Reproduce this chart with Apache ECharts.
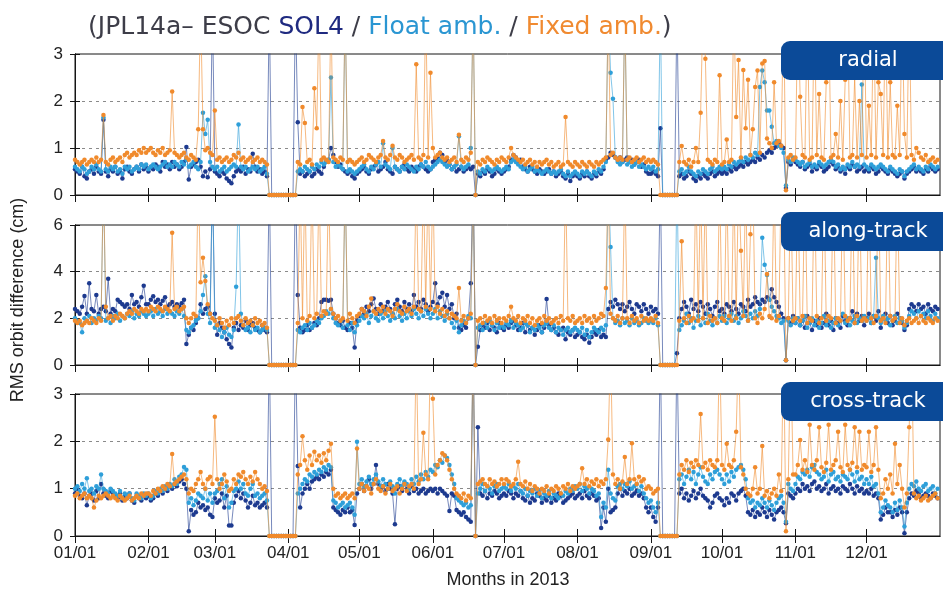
<!DOCTYPE html>
<html>
<head>
<meta charset="utf-8">
<script src="https://cdn.jsdelivr.net/npm/echarts@6/dist/echarts.min.js"></script>
<style>
html,body{margin:0;padding:0;background:#fff}
#chart{width:943px;height:593px}
</style>
</head>
<body>
<div id="chart"></div>
<script>
// Day-of-year where each month of 2013 starts, and the tick labels shown there
const MONTH_START = [0,31,59,90,120,151,181,212,243,273,304,334];
const MONTH_LABELS = ['01/01','02/01','03/01','04/01','05/01','06/01','07/01','08/01','09/01','10/01','11/01','12/01'];

// Daily RMS orbit differences (cm), one sub-array per month.
// Values above the axis maximum are days that leave the top of the panel.

// ---- radial ----
const RADIAL_SOL4 = [
[0.55,0.5,0.45,0.6,0.4,0.35,0.5,0.55,0.45,0.6,0.5,0.45,1.6,0.5,0.4,0.55,0.5,0.6,0.45,0.5,0.35,0.55,0.6,0.5,0.45,0.55,0.6,0.5,0.65,0.55,0.6],
[0.5,0.6,0.55,0.65,0.6,0.5,0.7,0.6,0.65,0.55,0.7,0.6,0.65,0.55,0.6,0.7,1.02,0.33,0.6,0.65,0.7,0.75,0.6,0.4,0.5,0.38,0.55,4],
[0.5,0.45,0.4,0.5,0.45,0.35,0.3,0.25,0.4,0.5,0.55,0.5,0.6,0.45,0.55,0.5,0.88,0.6,0.5,0.55,0.45,0.5,0.4,4,0,0,0,0,0,0,0],
[0,0,0,4,1.55,0.45,0.5,0.4,0.45,0.5,0.4,0.45,0.55,0.5,0.45,0.6,0.7,0.75,1.0,0.85,0.7,0.6,0.65,0.55,0.5,0.45,0.5,0.4,0.35,0.45],
[0.5,0.55,0.6,0.5,0.45,0.55,0.6,0.65,0.5,0.55,0.6,0.7,0.55,0.5,0.45,0.6,0.55,0.5,0.6,0.65,0.55,0.5,0.6,0.55,0.5,0.6,0.65,0.6,0.55,0.5,0.55],
[0.7,0.75,0.8,0.9,0.85,0.7,0.75,0.65,0.55,0.6,0.5,0.55,0.6,0.5,0.55,0.6,0.55,0.6,0,0.45,0.4,0.5,0.45,0.55,0.5,0.4,0.45,0.55,0.5,0.45],
[0.5,0.55,0.6,0.75,0.85,0.8,0.7,0.75,0.6,0.55,0.5,0.6,0.55,0.5,0.45,0.55,0.5,0.45,0.5,0.55,0.45,0.5,0.4,0.45,0.5,0.4,0.35,0.45,0.3,0.4,0.45],
[0.4,0.35,0.45,0.4,0.5,0.4,0.35,0.45,0.4,0.5,0.45,0.55,0.75,0.8,0.9,0.85,0.8,0.75,0.8,0.7,0.75,0.8,0.7,0.75,0.65,0.7,0.75,0.6,0.65,0.5,0.45],
[0.45,0.5,0.45,0.4,1.42,0,0,0,0,0,0,4,0.4,0.45,0.35,0.4,0.5,0.45,0.35,0.3,0.4,0.35,0.45,0.4,0.35,0.45,0.5,0.4,0.45,0.5],
[0.45,0.5,0.45,0.55,0.5,0.6,0.55,0.6,0.65,0.6,0.7,0.65,0.7,0.75,0.7,0.8,0.75,0.85,0.8,0.9,0.95,0.9,1.0,1.05,1.1,1.05,1.0,0.15,0.7,0.65,0.75],
[0.7,0.65,0.6,0.7,0.55,0.6,0.65,0.5,0.6,0.55,0.65,0.6,0.5,0.55,0.6,0.7,0.65,0.55,0.6,0.5,0.55,0.45,0.6,0.55,0.65,0.6,0.5,0.55,0.6,0.5],
[0.55,0.5,0.6,0.55,0.45,0.5,0.6,0.55,0.5,0.45,0.55,0.5,0.45,0.4,0.45,0.5,0.35,0.45,0.5,0.55,0.6,0.5,0.55,0.5,0.45,0.55,0.5,0.6,0.55,0.5,0.55]
];
const RADIAL_FLOAT = [
[0.6,0.55,0.5,0.6,0.55,0.45,0.5,0.6,0.55,0.65,0.55,0.5,1.65,0.55,0.5,0.6,0.55,0.6,0.5,0.55,0.45,0.6,0.55,0.6,0.5,0.55,0.6,0.55,0.65,0.6,0.65],
[0.55,0.6,0.65,0.6,0.55,0.6,0.65,0.7,0.6,0.65,0.6,0.7,0.65,0.6,0.7,0.65,0.75,0.6,0.65,0.7,0.6,0.55,0.7,1.75,1.3,1.6,0.7,0.6],
[0.55,0.6,0.5,0.55,0.6,0.5,0.55,0.6,0.65,0.6,1.5,0.6,0.55,0.6,0.5,0.55,0.6,0.55,0.6,0.5,0.55,0.6,0.45,0,0,0,0,0,0,0,0],
[0,0,0,0,0.5,0.55,0.5,0.6,0.55,0.5,0.6,0.55,0.65,0.6,0.7,0.65,0.7,0.75,2.5,0.7,0.6,0.65,0.6,0.55,4,0.5,0.55,0.5,0.45,0.5],
[0.55,0.6,0.65,0.55,0.5,0.6,0.55,0.65,0.7,0.6,1.1,0.65,0.6,0.55,1.0,0.6,0.55,0.5,0.6,0.55,0.65,0.6,0.55,0.5,0.6,0.55,0.65,0.6,0.7,0.6,0.55],
[0.6,0.65,0.7,0.75,0.7,0.65,0.6,0.65,0.55,0.6,0.65,1.25,0.6,0.55,0.6,0.65,1.0,4,0,0.5,0.45,0.55,0.5,0.6,0.55,0.5,0.55,0.6,0.55,0.5],
[0.55,0.6,0.55,0.7,0.75,0.7,0.65,0.6,0.55,0.6,0.5,0.55,0.6,0.5,0.55,0.5,0.45,0.5,0.55,0.5,0.45,0.5,0.45,0.5,0.55,0.45,0.4,0.5,0.4,0.45,0.5],
[0.45,0.4,0.5,0.45,0.5,0.45,0.4,0.5,0.45,0.55,0.5,0.6,0.7,4,2.6,2.05,0.8,0.7,0.65,0.7,4,0.65,0.7,0.6,0.65,0.7,0.6,0.65,0.6,0.55,0.6],
[0.55,0.6,0.5,0.55,4,0,0,0,0,0,0,0,0.5,0.55,0.45,0.5,0.6,0.5,0.45,0.4,0.5,0.45,0.55,0.5,0.45,0.55,0.6,0.5,0.55,0.6],
[0.55,0.6,0.55,0.65,0.6,0.7,0.65,0.7,0.75,0.7,0.8,0.75,0.85,0.8,0.9,0.85,2.3,2.65,2.4,1.8,1.8,1.45,1.1,1.15,1.05,1.0,0.9,0.2,0.75,0.7,0.8],
[0.75,0.7,0.65,0.7,0.6,0.65,0.7,0.6,0.65,0.6,0.7,0.65,0.6,0.65,0.7,0.75,0.7,0.6,0.65,0.55,0.6,0.55,0.65,0.6,0.7,0.6,0.65,0.6,2.35,0.65],
[0.6,0.55,0.65,0.6,0.55,0.6,0.65,0.6,0.55,0.5,0.6,0.55,0.5,0.45,0.55,0.5,0.4,0.5,0.55,0.6,0.65,0.55,0.6,0.55,0.5,0.6,0.55,0.65,0.6,0.55,0.6]
];
const RADIAL_FIXED = [
[0.75,0.7,0.65,0.7,0.75,0.65,0.7,0.75,0.7,0.8,0.7,0.75,1.7,0.7,0.65,0.75,0.8,0.7,0.75,0.8,0.7,0.85,0.9,0.8,0.85,0.9,0.85,0.95,0.9,1.0,0.9],
[0.95,1.0,0.9,0.85,0.95,0.9,1.0,0.85,0.9,0.95,2.2,0.9,0.85,0.8,0.85,0.9,0.8,0.75,0.85,0.8,0.75,1.4,4,1.4,0.95,1.0,0.9,0.85],
[1.8,0.75,0.8,0.7,0.75,0.8,0.7,0.75,0.85,0.8,0.9,0.75,0.8,0.7,0.75,0.8,0.7,0.75,0.8,0.7,0.75,0.7,0.65,0,0,0,0,0,0,0,0],
[0,0,0,0,0.7,0.65,1.87,1.53,0.7,0.75,0.65,2.27,1.42,4,0.75,0.8,0.75,0.7,4,0.8,0.75,0.7,0.8,0.75,4,0.7,0.75,0.7,0.65,0.7],
[0.75,0.8,0.7,0.75,0.85,0.8,0.75,0.7,0.8,0.85,1.15,0.8,0.75,0.85,1.05,0.8,0.75,0.85,0.8,0.7,0.75,0.8,0.85,0.75,2.78,0.8,0.75,0.85,4,0.8,2.6],
[1.0,0.8,0.85,0.9,0.8,0.75,0.8,0.7,0.75,0.8,0.7,1.28,0.75,0.7,0.8,0.75,0.9,4,0,0.7,0.65,0.75,0.7,0.8,0.75,0.7,0.65,0.75,0.7,0.8],
[0.75,0.7,0.8,1.0,0.85,0.8,0.75,0.7,0.75,0.65,0.7,0.75,0.65,0.7,0.6,0.7,0.65,0.7,0.75,0.65,0.7,0.6,0.65,0.7,0.6,0.65,1.66,0.7,0.65,0.6,0.7],
[0.65,0.6,0.7,0.65,0.6,0.7,0.65,0.6,0.7,0.65,0.7,0.75,0.8,4,0.85,0.9,0.8,0.75,0.8,0.75,4,0.75,0.8,0.7,0.75,0.8,0.7,0.75,0.8,0.7,0.75],
[0.7,0.75,0.7,0.65,0,0,0,0,0,0,0,0,0.7,1.04,0.7,0.65,0.75,0.6,0.7,1.0,0.7,1.75,4,2.9,0.75,0.7,0.65,0.75,0.7,2.55],
[0.65,0.7,1.18,0.7,0.75,4,1.66,2.87,0.8,2.66,1.42,2.45,0.85,1.4,2.3,2.65,0.9,2.8,2.85,1.2,1.1,1.0,2.4,1.1,1.15,1.05,4,0.1,0.8,0.85,0.75],
[0.8,4,2.09,0.85,0.8,4,0.75,0.8,4,0.85,2.15,0.8,0.75,2.4,4,0.8,0.85,1.3,0.8,2.0,0.75,2.45,4,0.8,0.85,2.5,0.8,2.0,0.85,4],
[0.8,1.9,0.85,4,0.8,2.4,2.15,0.85,4,0.8,2.4,0.85,0.8,1.9,0.85,4,1.3,0.8,4,0.85,0.75,1.0,0.9,0.8,0.75,0.85,0.7,0.75,0.8,0.7,0.75]
];

// ---- along-track ----
const ALONG_SOL4 = [
[2.4,2.3,2.2,2.5,2.96,2.2,3.5,2.4,2.3,3.0,2.2,2.4,2.5,2.3,3.7,2.2,2.4,2.3,2.8,2.7,2.6,2.5,2.6,2.4,3.0,2.6,2.7,2.5,2.9,3.4,2.6],
[2.6,2.8,2.95,2.7,2.8,2.6,2.75,2.9,2.5,2.6,2.7,2.5,2.6,2.5,2.65,2.8,0.9,1.3,1.6,1.5,1.8,2.0,2.6,2.2,2.4,2.5,2.2,8],
[2.2,1.3,1.8,1.6,1.4,1.1,0.9,0.75,1.6,1.8,1.5,1.7,1.6,1.9,1.5,1.7,1.8,1.6,1.5,1.4,1.7,1.5,1.4,8,0,0,0,0,0,0,0],
[0,0,0,8,3.0,1.6,1.4,1.5,1.7,1.5,1.6,1.8,1.7,2.0,2.7,2.8,2.8,2.75,2.8,2.2,2.0,1.8,1.7,1.9,1.6,1.5,1.8,1.6,0.75,1.9],
[2.1,2.4,2.2,2.5,2.3,2.6,2.85,2.4,2.2,2.6,2.3,2.5,2.7,2.4,2.2,2.6,2.8,2.5,2.3,2.7,2.4,2.6,2.3,3.0,2.5,2.7,2.4,2.8,2.6,2.3,2.5],
[2.7,3.5,2.6,2.9,3.1,2.5,3.0,2.4,2.6,2.0,2.2,1.6,1.5,1.7,1.6,2.0,3.5,8,0,0.78,1.5,1.7,1.6,1.8,1.5,1.7,1.6,1.4,1.8,1.6],
[1.5,1.7,1.6,1.8,1.9,1.7,1.5,1.6,1.8,1.4,1.7,1.5,1.6,1.3,1.5,1.7,1.4,1.6,2.83,1.7,1.5,1.6,1.4,1.3,1.5,1.6,1.1,1.4,1.3,1.5,1.2],
[1.3,1.4,1.2,1.1,1.3,0.95,1.2,1.4,1.3,1.5,1.2,1.3,1.2,2.4,2.7,2.5,2.8,2.6,2.4,2.6,2.3,2.5,2.7,2.4,2.2,2.6,2.5,2.3,2.6,2.4,2.2],
[2.5,2.3,2.4,2.2,8,0,0,0,0,0,0,0.5,2.0,2.4,2.7,2.5,2.2,2.8,2.4,2.6,2.3,2.7,2.5,2.2,2.6,2.4,2.1,2.5,2.7,2.3],
[2.4,2.2,2.6,2.5,2.3,2.7,2.4,2.2,2.6,2.5,2.3,2.8,2.5,2.6,2.9,2.7,2.6,2.8,2.7,2.9,2.8,3.25,2.9,2.7,2.5,2.2,2.0,0.2,2.0,1.8,2.1],
[1.8,2.0,1.7,1.9,1.6,2.1,1.8,1.5,1.9,1.7,2.0,1.6,1.8,2.2,1.7,1.9,1.5,2.0,1.8,1.6,2.1,1.9,1.7,2.0,2.3,1.8,2.2,1.9,2.1,1.7],
[2.0,2.2,1.8,2.1,1.9,2.3,1.6,2.0,2.2,1.8,2.1,1.7,1.9,2.2,2.0,1.8,1.5,1.7,2.4,2.6,2.5,2.3,2.6,2.4,2.5,2.2,2.6,2.4,2.3,2.5,2.4]
];
const ALONG_FLOAT = [
[2.0,1.9,1.8,1.4,2.0,1.9,2.1,1.8,2.0,1.9,2.1,2.0,8,1.9,2.0,1.8,2.1,2.0,2.2,1.9,2.1,2.0,2.2,2.1,2.3,2.0,2.2,2.1,2.3,2.2,2.1],
[2.2,2.3,2.1,2.4,2.2,2.3,2.1,2.4,2.2,2.3,2.2,2.1,2.3,2.2,2.4,2.1,1.5,1.4,1.6,1.7,1.9,2.0,2.3,3.0,3.8,2.2,1.8,8],
[1.6,1.7,1.5,1.2,1.4,1.6,1.3,1.2,1.5,3.35,8,2.2,1.7,1.5,1.6,1.4,1.7,1.5,1.6,1.4,1.5,1.6,1.5,0,0,0,0,0,0,0,0],
[0,0,0,0,1.5,1.4,1.6,1.7,1.5,1.8,1.6,1.7,1.9,1.8,2.0,2.1,2.3,2.2,2.4,2.0,1.8,1.7,1.9,1.6,8,1.7,1.5,1.8,1.4,1.7],
[1.9,2.1,2.0,2.2,1.8,2.1,2.3,2.0,1.9,2.2,2.0,2.3,2.1,1.9,2.2,2.0,2.4,2.1,1.9,2.2,2.0,2.3,2.1,2.4,2.2,2.0,2.3,2.1,2.4,2.2,2.0],
[2.2,2.4,2.0,2.3,2.1,1.9,2.2,2.0,1.8,1.6,1.9,1.4,1.7,1.9,1.8,2.1,2.0,8,0,1.6,1.7,1.5,1.8,1.6,1.9,1.7,1.5,1.8,1.6,1.7],
[1.6,1.8,1.7,1.9,1.6,1.8,1.7,1.5,1.6,1.8,1.7,1.4,1.6,1.5,1.7,1.6,1.4,1.7,1.8,1.6,1.5,1.7,1.4,1.6,1.5,1.3,1.5,1.6,1.4,1.5,1.6],
[1.5,1.4,1.6,1.3,1.5,1.2,1.4,1.6,1.5,1.4,1.6,1.5,1.7,8,5.06,2.0,1.8,1.9,1.7,2.0,1.8,1.9,1.7,2.0,1.8,1.9,1.7,1.8,2.0,1.9,1.8],
[1.9,1.8,2.0,1.7,0,0,0,0,0,0,0,8,1.5,1.7,1.9,2.2,1.8,2.0,1.6,1.9,2.1,1.7,2.0,1.8,2.2,1.9,1.7,2.0,1.8,2.1],
[1.9,2.1,1.8,2.0,2.2,1.9,2.1,1.8,2.0,2.3,2.1,1.9,2.2,2.0,2.3,2.1,2.4,5.45,4.3,3.86,2.8,2.5,2.3,2.1,2.0,1.8,1.9,0.2,1.9,1.7,2.0],
[1.8,2.0,1.7,1.9,2.1,1.6,1.8,2.0,1.7,1.9,1.6,1.8,2.1,1.7,1.9,1.6,1.8,2.0,1.7,1.9,2.2,1.8,2.0,1.7,1.9,2.1,1.8,2.0,1.9,2.1],
[1.9,2.0,1.8,2.1,4.6,2.0,1.8,2.1,1.9,2.0,1.7,1.9,2.1,1.8,2.0,1.9,1.6,1.8,2.1,2.3,2.2,2.0,2.3,2.1,2.2,2.0,2.3,2.1,1.9,2.2,2.0]
];
const ALONG_FIXED = [
[1.9,1.8,1.9,1.7,1.8,1.9,1.8,2.0,1.9,1.8,2.0,1.9,8,2.5,2.0,2.1,1.9,2.1,2.0,2.2,2.1,2.0,2.2,2.3,2.2,2.4,2.3,2.2,2.4,2.3,2.4],
[2.3,2.5,2.4,2.3,2.5,2.4,2.3,2.5,2.4,2.3,5.67,2.4,2.5,2.3,2.4,2.5,2.0,1.8,2.0,2.2,2.1,8,3.55,4.6,3.6,2.6,2.2,2.0],
[1.9,1.7,2.0,1.8,1.6,1.9,1.7,2.0,1.8,2.0,2.1,1.9,1.7,2.0,1.8,1.9,1.7,2.0,1.8,1.9,1.7,1.8,1.6,0,0,0,0,0,0,0,0],
[0,0,0,0,1.8,8,2.0,8,1.9,2.1,8,2.0,2.2,8,2.1,2.3,2.2,8,2.4,2.2,2.0,2.1,1.9,2.0,8,1.9,2.2,2.0,1.8,2.1],
[2.2,2.4,2.3,2.1,2.5,2.85,2.3,2.2,2.4,2.3,2.5,2.2,2.4,2.3,2.1,2.4,2.6,2.3,2.2,2.5,2.3,2.4,2.2,2.5,8,2.4,2.3,8,2.5,8,2.4],
[8,2.3,2.5,2.2,2.4,2.1,2.3,2.0,2.2,2.1,2.0,3.3,1.9,2.1,1.8,2.0,2.2,8,0,1.9,2.0,1.8,2.1,1.9,2.0,1.8,2.1,1.9,2.0,1.8],
[2.0,1.9,2.1,2.5,2.0,1.9,2.1,1.8,2.0,1.9,2.1,1.8,2.0,1.7,1.9,2.0,1.8,2.1,1.9,2.0,1.8,1.9,2.0,1.8,2.1,1.9,8,2.0,1.9,2.1,1.8],
[1.9,2.0,1.8,2.1,1.9,2.0,1.8,2.1,1.9,2.0,2.2,2.1,3.3,8,2.2,2.0,1.9,2.1,1.8,2.0,8,2.0,1.8,2.1,1.9,2.0,1.8,2.1,1.9,2.0,1.9],
[2.0,1.9,2.1,1.8,0,0,0,0,0,0,0,0,1.9,5.3,2.0,1.8,2.1,1.9,2.0,8,1.9,8,2.0,8,1.8,2.1,1.9,2.0,1.8,8],
[2.0,1.9,8,2.1,1.9,8,2.0,8,4.9,2.1,8,1.9,5.6,8,2.0,1.8,2.2,2.0,2.4,3.9,2.1,2.0,8,1.9,2.1,8,8,0.2,2.0,8,1.9],
[2.0,8,1.9,2.1,8,1.8,2.0,1.9,8,2.1,1.8,2.0,8,1.9,2.1,2.0,8,1.8,2.0,1.9,8,2.1,1.9,2.0,8,1.8,2.1,8,1.9,2.0],
[1.9,8,2.0,1.8,2.1,8,1.9,2.0,1.8,8,2.1,1.9,2.0,8,1.8,2.0,1.7,1.9,2.0,1.8,1.9,2.0,1.8,2.1,1.9,1.8,2.0,1.9,1.8,2.0,1.9]
];

// ---- cross-track ----
const CROSS_SOL4 = [
[0.9,1.0,0.85,0.8,0.9,0.65,0.85,0.9,0.75,0.95,0.8,1.1,0.9,0.85,0.8,0.95,0.9,0.85,0.8,0.9,0.75,0.85,0.8,0.9,0.75,0.7,0.85,0.8,0.75,0.85,0.8],
[0.85,0.75,0.8,0.9,0.85,0.95,0.9,1.0,0.95,1.05,1.0,1.1,1.05,1.15,1.2,1.1,1.0,0.1,0.55,0.45,0.5,0.7,0.6,0.65,0.55,0.6,0.45,0.4],
[0.8,0.7,0.75,0.9,0.6,0.85,0.22,0.22,0.7,0.85,0.95,0.8,0.9,0.75,0.6,0.7,0.85,0.65,0.7,0.6,0.65,0.7,0.6,4,0,0,0,0,0,0,0],
[0,0,0,4,1.48,0.6,0.9,1.0,1.1,1.0,1.15,1.2,1.25,1.2,1.3,1.25,1.35,1.3,1.4,0.6,0.55,0.5,0.45,0.55,0.5,0.6,0.5,0.55,0.23,0.9],
[1.0,1.1,0.95,1.05,1.2,1.0,1.1,1.5,1.1,1.0,1.05,0.95,1.1,1.0,0.9,0.25,1.0,1.05,0.95,1.1,1.0,0.9,1.05,0.95,1.0,0.9,0.95,1.0,0.9,0.95,1.0],
[0.95,1.0,0.9,1.0,0.95,0.9,0.85,0.53,0.9,0.85,0.55,0.5,0.45,0.5,0.4,0.35,0.3,4,0,2.3,0.9,0.85,0.95,0.8,0.9,0.85,0.95,0.9,0.8,0.85],
[0.9,0.85,0.95,0.9,0.8,0.9,0.85,0.95,0.8,0.75,0.85,0.7,0.8,0.75,0.9,0.85,0.7,0.8,0.75,0.85,0.7,0.8,0.75,0.9,0.85,0.7,0.75,0.8,0.85,0.9,0.8],
[0.85,0.9,0.8,0.95,0.85,0.8,0.9,0.85,0.75,0.8,0.17,0.6,0.3,1.0,0.5,0.55,0.6,0.9,1.0,0.85,0.95,0.9,1.0,0.85,0.9,0.95,0.85,0.9,0.8,0.6,0.5],
[0.6,0.4,0.3,0.6,4,0,0,0,0,0,0,4,0.9,1.0,0.8,0.9,0.75,0.85,0.95,0.8,0.9,1.0,0.85,0.8,0.75,0.6,0.7,0.85,0.9,0.8],
[0.75,0.65,0.8,0.7,0.9,0.85,0.75,0.9,0.95,1.0,0.85,0.5,0.45,0.55,0.4,0.5,0.45,0.6,0.5,0.4,0.55,0.45,0.35,0.5,0.55,0.6,0.5,0.27,0.9,0.85,0.8],
[0.9,1.0,0.95,1.1,1.0,1.05,0.95,1.1,1.15,1.0,1.05,0.95,1.0,1.1,0.9,1.0,1.05,0.95,1.0,0.9,1.05,1.0,0.95,1.1,1.0,0.9,1.05,0.95,1.0,0.9],
[0.95,0.9,1.0,0.85,0.9,0.8,0.35,0.45,0.6,0.5,0.5,0.4,0.55,0.45,0.6,0.5,0.06,0.5,0.8,0.9,0.85,0.95,0.9,0.8,0.85,0.9,0.85,0.8,0.9,0.85,0.8]
];
const CROSS_FLOAT = [
[1.0,1.05,0.95,1.1,1.0,1.22,0.95,1.0,0.9,1.05,1.0,1.3,1.0,0.95,0.9,1.0,0.95,0.9,0.85,0.95,0.8,0.9,0.85,0.9,0.8,0.75,0.9,0.85,0.8,0.9,0.85],
[0.9,0.8,0.85,0.95,0.9,1.0,0.95,1.05,1.0,1.1,1.05,1.2,1.1,1.25,1.3,1.46,1.4,0.7,0.8,0.65,0.75,0.9,0.85,0.8,1.0,0.75,0.9,0.7],
[0.9,0.95,1.1,1.2,0.8,1.05,0.6,0.7,0.95,1.0,1.15,1.0,1.1,0.9,0.85,1.0,1.1,0.85,0.9,0.8,0.85,0.9,0.75,0,0,0,0,0,0,0,0],
[0,0,0,0,0.9,1.0,1.1,1.2,1.15,1.3,1.25,1.35,1.3,1.4,1.35,1.45,1.4,1.5,1.45,0.75,0.7,0.6,0.65,0.7,0.6,0.65,0.7,0.6,0.45,1.99],
[1.1,1.2,1.05,1.15,1.25,1.1,1.2,1.3,1.15,1.05,1.2,1.1,1.0,1.15,1.05,0.9,1.1,1.2,1.05,1.15,1.1,1.0,1.2,1.1,1.25,1.15,1.3,1.2,1.35,1.25,1.4],
[1.35,1.5,1.45,1.6,1.55,1.7,1.65,1.5,1.3,1.1,0.8,0.75,0.7,0.65,0.7,0.6,0.65,4,0,0.9,1.0,1.1,0.95,1.05,1.0,0.9,1.05,1.1,0.95,1.0],
[1.05,1.0,1.1,0.95,1.05,1.0,1.1,0.95,0.9,1.0,0.85,0.95,0.9,1.0,0.85,0.95,0.8,0.9,0.85,0.95,0.8,0.9,0.85,0.8,0.9,0.85,0.95,0.9,1.0,0.95,1.05],
[1.0,1.1,0.95,1.05,1.0,0.9,1.0,0.95,0.85,0.9,0.4,0.7,0.6,1.4,0.9,0.8,0.75,1.05,1.1,1.0,1.1,1.05,1.15,1.0,1.05,1.1,0.95,1.05,0.9,0.8,0.7],
[0.75,0.6,0.5,0.7,0,0,0,0,0,0,0,0,1.2,1.3,1.1,1.25,1.4,1.2,1.35,1.1,1.3,1.45,1.25,1.15,1.1,1.3,1.2,1.35,1.4,1.3],
[1.2,1.1,1.3,1.15,1.35,1.25,1.4,1.45,1.5,1.4,1.2,0.8,0.7,0.75,0.6,0.7,0.65,0.8,0.7,0.6,0.75,0.65,0.55,0.7,0.8,0.85,0.7,0.3,1.1,1.0,0.95],
[1.1,1.25,1.2,1.35,1.3,1.4,1.25,1.45,1.5,1.35,1.3,1.2,1.25,1.4,1.15,1.3,1.35,1.2,1.25,1.15,1.3,1.25,1.2,1.4,1.3,1.15,1.35,1.2,1.25,1.1],
[1.2,1.1,1.25,1.05,1.1,0.9,0.5,0.6,0.75,0.65,0.6,0.5,0.7,0.55,0.75,0.6,0.2,0.7,1.0,1.1,1.05,1.15,1.0,0.95,1.05,1.1,0.95,1.0,1.05,0.9,1.0]
];
const CROSS_FIXED = [
[0.85,0.9,0.8,0.85,0.9,0.8,0.85,0.8,0.6,0.75,0.85,0.8,0.85,0.9,0.85,0.8,0.85,0.8,0.75,0.85,0.8,0.75,0.8,0.85,0.75,0.8,0.85,0.8,0.9,0.85,0.9],
[0.9,0.85,0.95,0.9,1.0,0.95,1.05,1.0,1.1,1.05,1.73,1.1,1.15,1.2,1.25,1.3,1.2,0.9,1.0,0.95,1.1,1.2,1.35,1.1,1.0,1.2,1.25,1.1],
[2.52,1.2,1.0,1.1,1.3,1.15,0.95,1.0,1.2,1.1,1.3,1.25,1.35,1.2,1.1,1.25,1.15,1.35,1.2,1.1,1.0,1.05,0.95,0,0,0,0,0,0,0,0],
[0,0,0,0,1.3,1.5,2.11,1.6,1.4,1.7,1.5,1.78,1.6,1.7,1.55,1.75,1.6,1.8,1.95,1.0,0.85,0.9,0.8,0.85,0.9,0.8,0.85,0.9,0.8,1.85],
[1.0,1.1,0.95,1.05,1.0,0.9,1.1,1.2,1.0,0.95,1.05,0.9,1.0,1.1,0.95,1.0,1.05,0.9,1.0,1.1,0.95,1.05,1.1,1.0,4,1.1,1.2,2.18,1.3,1.2,4],
[2.9,1.3,1.5,1.6,1.75,1.7,1.6,1.4,1.2,1.0,0.9,0.85,0.8,0.9,0.75,0.85,0.8,4,0,1.1,1.15,1.2,1.1,1.05,1.2,1.1,1.15,1.05,1.1,1.2],
[1.1,1.2,1.15,1.05,1.1,1.2,1.57,1.1,1.05,1.15,1.0,1.1,0.95,1.05,1.0,0.9,1.0,0.95,1.05,0.9,1.0,0.95,1.05,1.0,0.9,1.05,1.0,1.1,0.95,1.05,1.0],
[1.05,1.1,1.43,1.1,1.2,1.05,1.15,1.1,1.2,1.05,1.15,1.1,1.2,2.04,4,1.3,1.1,1.2,1.0,1.15,1.67,1.1,1.2,1.96,1.2,1.1,1.25,1.15,1.2,1.0,1.05],
[1.0,0.9,0.95,1.0,0,0,0,0,0,0,0,0,1.3,1.5,1.4,1.6,1.35,1.55,1.45,1.6,1.5,2.58,1.45,1.55,1.4,1.6,1.5,1.45,1.6,4],
[1.5,1.4,1.95,1.5,1.45,1.6,2.2,4,1.45,1.3,1.0,0.9,0.85,1.0,1.45,0.9,1.0,1.9,0.85,0.95,0.8,0.9,1.0,0.85,1.3,0.95,4,0.1,1.2,4,1.3],
[1.3,1.5,2.03,1.4,1.6,1.35,2.35,1.5,1.4,1.6,2.3,1.45,1.35,1.55,2.35,1.4,1.5,1.6,2.2,1.45,1.35,2.35,1.5,1.4,1.55,2.3,1.45,2.2,1.4,1.5],
[1.45,2.2,1.35,1.5,2.3,1.4,0.8,0.9,1.2,1.0,1.3,0.9,1.95,1.1,1.5,1.0,0.6,0.9,2.3,4,0.9,0.8,0.85,0.75,0.8,0.85,0.75,0.8,0.85,0.9,0.8]
];

// Panel setup
const PANELS = [
  { name: 'radial',      max: 3, step: 1, series: [RADIAL_SOL4, RADIAL_FLOAT, RADIAL_FIXED] },
  { name: 'along-track', max: 6, step: 2, series: [ALONG_SOL4, ALONG_FLOAT, ALONG_FIXED] },
  { name: 'cross-track', max: 3, step: 1, series: [CROSS_SOL4, CROSS_FLOAT, CROSS_FIXED] }
];
const SERIES_NAMES = ['SOL4', 'Float amb.', 'Fixed amb.'];
const COLORS = ['#1d3a8f', '#2e9fd9', '#f08a2c'];
const GRID_BOX = [
  { top: 54,  height: 141 },
  { top: 225, height: 140 },
  { top: 394, height: 142 }
];
const LABEL_BOX_TOP = [41, 212, 382];

// month arrays -> [dayOfYear, value] pairs
function toPoints(months) {
  const pts = [];
  months.forEach((arr, m) => arr.forEach((v, i) => pts.push([MONTH_START[m] + i, v])));
  return pts;
}

const FONT = 'Liberation Sans, Arial, sans-serif';
const AXIS_COLOR = '#151515';

const grids = [], xAxes = [], yAxes = [], series = [], graphics = [];

PANELS.forEach((p, k) => {
  grids.push({
    left: 75, right: 3, top: GRID_BOX[k].top, height: GRID_BOX[k].height,
    show: true, borderColor: AXIS_COLOR, borderWidth: 1, backgroundColor: 'transparent'
  });
  const xBase = {
    gridIndex: k, type: 'value', min: 0, max: 365,
    axisLine: { show: true, lineStyle: { color: AXIS_COLOR, width: 1 } },
    axisTick: { show: true, inside: true, length: 7, customValues: MONTH_START, lineStyle: { color: AXIS_COLOR } },
    splitLine: { show: false }
  };
  xAxes.push(Object.assign({}, xBase, {
    position: 'bottom',
    axisLabel: {
      show: k === 2, customValues: MONTH_START, margin: 9,
      fontSize: 17, color: '#222', fontFamily: FONT,
      formatter: v => MONTH_LABELS[MONTH_START.indexOf(v)] || ''
    }
  }));
  xAxes.push(Object.assign({}, xBase, { position: 'top', axisLabel: { show: false } }));

  const yBase = {
    gridIndex: k, type: 'value', min: 0, max: p.max, interval: p.step,
    axisLine: { show: true, lineStyle: { color: AXIS_COLOR, width: 1 } },
    axisTick: { show: true, inside: true, length: 5, lineStyle: { color: AXIS_COLOR } }
  };
  yAxes.push(Object.assign({}, yBase, {
    position: 'left',
    axisLabel: { show: true, margin: 12, fontSize: 17, color: '#222', fontFamily: FONT },
    splitLine: { show: true, showMinLine: false, showMaxLine: false, lineStyle: { color: '#8a8a8a', type: [3, 4], width: 1 } }
  }));
  yAxes.push(Object.assign({}, yBase, {
    position: 'right', axisLabel: { show: false }, splitLine: { show: false }
  }));

  p.series.forEach((months, s) => {
    series.push({
      name: SERIES_NAMES[s], type: 'line',
      xAxisIndex: 2 * k, yAxisIndex: 2 * k,
      data: toPoints(months),
      symbol: 'circle', symbolSize: 4.5, showSymbol: true,
      clip: true, animation: false,
      z: 3 + s,
      itemStyle: { color: COLORS[s] },
      lineStyle: { color: COLORS[s], width: 1, opacity: 0.6 },
      emphasis: { disabled: true }
    });
  });

  // panel name badge in the top-right corner
  graphics.push({
    type: 'rect', z: 100,
    shape: { x: 781, y: LABEL_BOX_TOP[k], width: 175, height: 39, r: 9 },
    style: { fill: '#0b4a98' }
  });
  graphics.push({
    type: 'text', z: 101, x: 868, y: LABEL_BOX_TOP[k] + 20,
    style: { text: p.name, fill: '#fff', font: '21px "DejaVu Sans", Verdana, sans-serif', align: 'center', verticalAlign: 'middle' }
  });
});

// axis names
graphics.push({
  type: 'text', x: 18, y: 300, rotation: Math.PI / 2,
  style: { text: 'RMS orbit difference (cm)', fill: '#222', font: '18px "Liberation Sans", Arial, sans-serif', align: 'center', verticalAlign: 'middle' }
});
graphics.push({
  type: 'text', x: 508, y: 580,
  style: { text: 'Months in 2013', fill: '#222', font: '18px "Liberation Sans", Arial, sans-serif', align: 'center', verticalAlign: 'middle' }
});

const chart = echarts.init(document.getElementById('chart'), null, { renderer: 'canvas' });
const TITLE_FONT = 'DejaVu Sans, Verdana, sans-serif';
const titleRich = (color) => ({ fontSize: 25, fontWeight: 'normal', fontFamily: TITLE_FONT, color });
chart.setOption({
  animation: false,
  backgroundColor: '#fff',
  title: {
    left: 83, top: 10,
    text: '{k|(JPL14a\u2013 ESOC }{s|SOL4}{k| / }{f|Float amb.}{k| / }{x|Fixed amb.}{k|)}',
    textStyle: {
      fontWeight: 'normal',
      rich: {
        k: titleRich('#3d3d48'),
        s: titleRich('#1f2a80'),
        f: titleRich('#2a96d2'),
        x: titleRich('#f08a30')
      }
    }
  },
  grid: grids,
  xAxis: xAxes,
  yAxis: yAxes,
  series: series,
  graphic: graphics
});
</script>
</body>
</html>
